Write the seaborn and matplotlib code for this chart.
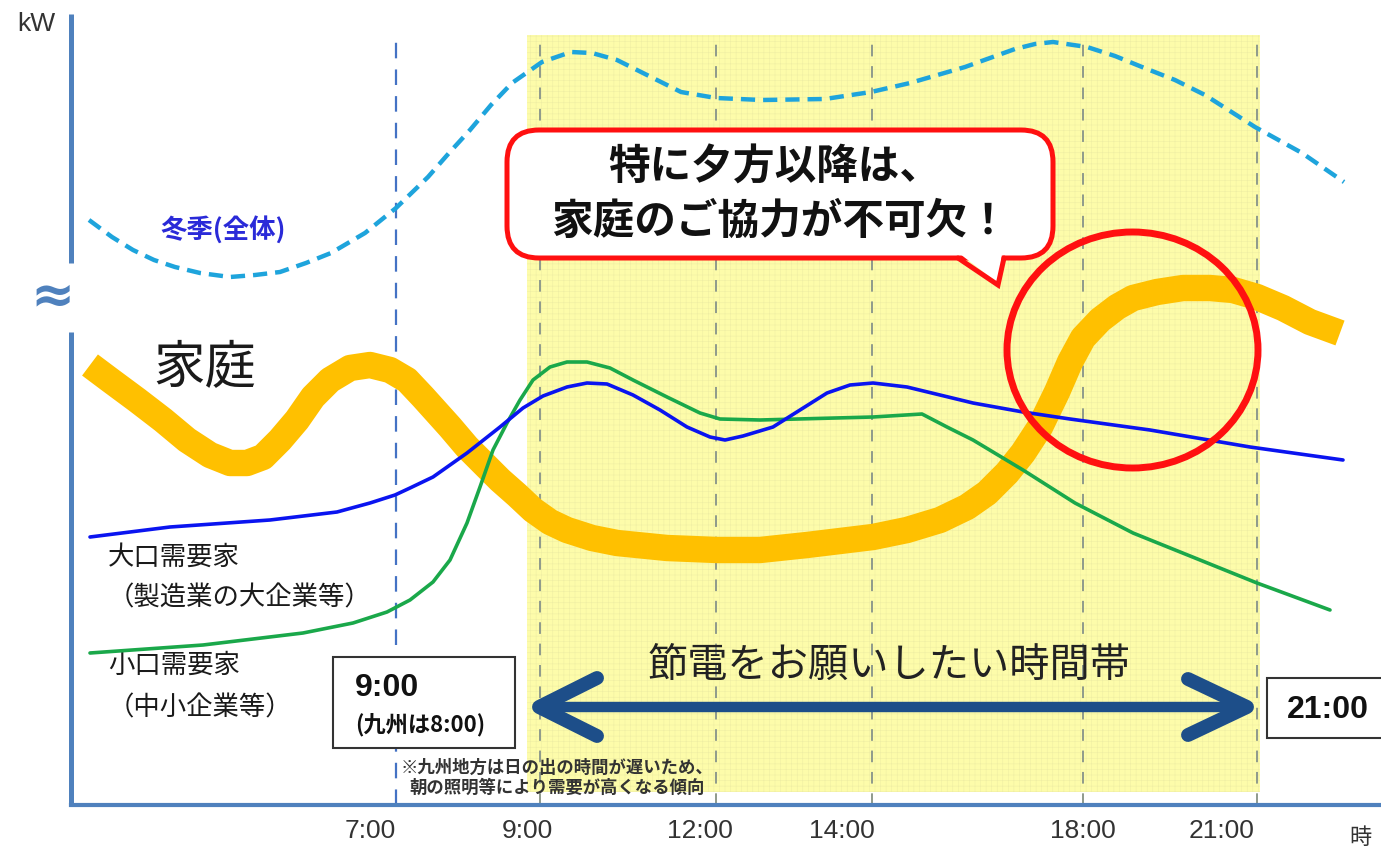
import matplotlib
matplotlib.use("Agg")
import matplotlib.pyplot as plt
import seaborn as sns
from matplotlib.patches import FancyBboxPatch, Polygon, Ellipse, Rectangle

# ---- curve data (x: position along the time axis, y: relative load) ----
winter_x = [1.8, 4.1, 6.2, 8.3, 10.4, 12.9, 15.9, 18.4, 20.9, 23.5, 26.0, 29.4, 32.5,
            35.7, 37.8, 39.9, 42.0, 44.1, 47.1, 50.0, 52.1, 54.6, 58.0, 61.0, 64.5,
            69.1, 75.4, 80.0, 83.9, 89.4, 91.9, 94.4, 96.4, 98.2, 101.6, 104.4, 107.1,
            110.4, 113.4, 115.9, 118.4, 123.1, 127.3]
winter_y = [58.5, 56.8, 55.5, 54.5, 53.8, 53.2, 52.8, 53.0, 53.3, 54.2, 55.2, 57.2, 59.7,
            62.8, 65.2, 67.5, 70.0, 72.2, 74.3, 75.3, 75.2, 74.5, 72.8, 71.3, 70.7,
            70.5, 70.6, 71.3, 72.2, 73.8, 74.7, 75.6, 76.1, 76.3, 75.8, 74.9, 73.8,
            72.5, 71.0, 69.4, 67.8, 65.2, 62.3]

home_x = [1.9, 3.9, 6.6, 9.2, 11.6, 13.9, 15.9, 17.6, 19.2, 20.9, 22.6, 24.2, 25.9, 27.9,
          29.9, 31.9, 33.6, 35.2, 37.9, 39.6, 41.2, 42.9, 44.6, 46.2, 47.9, 49.6, 52.1,
          54.6, 59.6, 64.6, 68.9, 73.6, 80.2, 83.6, 86.9, 89.6, 91.6, 93.6, 95.2, 96.9,
          98.6, 99.9, 101.2, 102.9, 104.6, 106.2, 108.6, 111.2, 113.9, 116.2, 118.6,
          121.2, 123.9, 126.9]
home_y = [44.0, 42.5, 40.5, 38.5, 36.5, 35.0, 34.2, 34.2, 34.8, 36.5, 38.5, 40.8, 42.5,
          43.7, 44.0, 43.5, 42.5, 40.8, 37.8, 35.8, 34.2, 32.5, 31.0, 29.5, 28.3, 27.5,
          26.7, 26.2, 25.7, 25.5, 25.5, 26.0, 26.8, 27.5, 28.5, 29.8, 31.2, 33.2, 35.2,
          37.8, 41.3, 44.3, 46.7, 48.5, 49.8, 50.7, 51.3, 51.7, 51.7, 51.5, 50.8, 49.7,
          48.3, 47.2]

large_x = [1.9, 9.9, 19.9, 26.6, 29.9, 32.4, 33.9, 36.2, 39.6, 42.9, 45.2, 47.2, 49.6,
           51.6, 53.6, 56.2, 58.9, 61.6, 63.9, 65.4, 67.2, 70.2, 72.9, 75.6, 77.9, 80.2,
           83.6, 86.9, 90.2, 95.2, 99.9, 107.9, 117.9, 127.2]
large_y = [26.8, 27.8, 28.5, 29.3, 30.2, 31.0, 31.7, 32.8, 35.2, 37.8, 39.7, 40.9, 41.8,
           42.2, 42.1, 41.0, 39.5, 37.8, 36.8, 36.5, 36.9, 37.8, 39.5, 41.2, 42.0, 42.2,
           41.8, 41.0, 40.2, 39.3, 38.6, 37.5, 35.8, 34.5]

small_x = [1.9, 13.2, 23.2, 28.2, 31.6, 33.9, 36.2, 37.9, 39.6, 40.9, 42.2, 43.6, 44.9,
           46.2, 47.9, 49.6, 51.6, 53.9, 56.2, 59.6, 62.9, 64.9, 68.9, 80.2, 85.1, 87.6,
           90.2, 95.2, 100.4, 106.2, 112.9, 118.6, 125.9]
small_y = [15.2, 16.0, 17.2, 18.2, 19.3, 20.5, 22.3, 24.5, 28.2, 31.8, 35.5, 38.2, 40.5,
           42.5, 43.8, 44.3, 44.3, 43.7, 42.5, 40.8, 39.2, 38.6, 38.5, 38.8, 39.1, 37.8,
           36.5, 33.5, 30.2, 27.2, 24.5, 22.2, 19.5]

tick_pos = [29.9, 45.6, 62.9, 77.1, 101.2, 115.1]
tick_labels = ["7:00", "9:00", "12:00", "14:00", "18:00", "21:00"]
guide_pos = [46.9, 64.5, 80.1, 101.2, 118.6]
morning_line = 32.5
band_start, band_end = 45.6, 118.9

AXIS_BLUE = "#4f81bd"

sns.set_theme(style="white")
plt.rcParams["font.family"] = ["Noto Sans CJK JP", "DejaVu Sans"]
plt.rcParams["hatch.linewidth"] = 0.4

fig = plt.figure(figsize=(13.81, 8.51), dpi=100)
ax = fig.add_axes([71 / 1381, 46 / 851, 1310 / 1381, 770 / 851])
ax.set_xlim(0, 131)
ax.set_ylim(0, 77)
ax.set_facecolor("white")

# requested power-saving time band
ax.axvspan(band_start, band_end, ymin=0.017, ymax=1.0, facecolor="#fdfcaa",
           edgecolor="#efeea4", linewidth=0, hatch="+++", zorder=0)

# time guide lines
for gx in guide_pos:
    ax.plot([gx, gx], [0, 76.5], color="#8f9a8c", lw=1.4,
            linestyle=(0, (6, 5)), zorder=1)
ax.plot([morning_line, morning_line], [0, 76.5], color="#4472c4", lw=1.6,
        linestyle=(0, (7, 5)), zorder=1)

# demand curves
sns.lineplot(x=home_x, y=home_y, color="#ffc000", lw=19, ax=ax, zorder=3,
             solid_capstyle="butt", solid_joinstyle="round")
sns.lineplot(x=small_x, y=small_y, color="#1aa84a", lw=2.6, ax=ax, zorder=4,
             solid_joinstyle="round")
sns.lineplot(x=large_x, y=large_y, color="#0a14f0", lw=2.6, ax=ax, zorder=5,
             solid_joinstyle="round")
sns.lineplot(x=winter_x, y=winter_y, color="#1ea4dc", lw=3.2, ax=ax, zorder=4,
             linestyle=(0, (3.2, 1.8)))

# highlight circle
ax.add_patch(Ellipse((106.15, 45.5), 25.1, 23.6, fill=False, ec="#ff1010",
                     lw=5, zorder=8))

# axes: broken vertical axis and horizontal axis
for s in ["top", "right", "left"]:
    ax.spines[s].set_visible(False)
ax.spines["bottom"].set_color(AXIS_BLUE)
ax.spines["bottom"].set_linewidth(3)
ax.plot([0, 0], [79.1, 54.2], color=AXIS_BLUE, lw=3.6, clip_on=False,
        solid_capstyle="butt", zorder=6)
ax.plot([0, 0], [47.3, 0], color=AXIS_BLUE, lw=3.6, clip_on=False,
        solid_capstyle="butt", zorder=6)
ax.text(-1.8, 50.9, "≈", color=AXIS_BLUE, fontsize=38, fontweight="bold",
        family="DejaVu Sans", ha="center", va="center", clip_on=False)
ax.text(-3.5, 78.1, "kW", color="#333333", fontsize=19, family="Liberation Sans",
        ha="center", va="center", clip_on=False)

ax.set_xticks(tick_pos, tick_labels)
ax.set_yticks([])
ax.tick_params(axis="x", length=0, pad=10, labelsize=19, colors="#333333")
for lab in ax.get_xticklabels():
    lab.set_family("Liberation Sans")
ax.text(128.9, -3.2, "時", fontsize=16, color="#333333", ha="center", va="center",
        clip_on=False)

# series labels
ax.text(15.2, 57.5, "冬季(全体)", color="#2a2ad8", fontsize=19, fontweight="bold",
        ha="center", va="center")
ax.text(13.4, 43.7, "家庭", color="#1a1a1a", fontsize=37, ha="center", va="center")
ax.text(3.7, 24.8, "大口需要家", color="#1a1a1a", fontsize=19, ha="left", va="center")
ax.text(3.7, 20.7, "（製造業の大企業等）", color="#1a1a1a", fontsize=19, ha="left",
        va="center")
ax.text(3.7, 14.0, "小口需要家", color="#1a1a1a", fontsize=19, ha="left", va="center")
ax.text(3.7, 9.7, "（中小企業等）", color="#1a1a1a", fontsize=19, ha="left", va="center")

# speech bubble
ax.add_patch(FancyBboxPatch((43.6, 54.7), 54.6, 12.8,
                            boxstyle="round,pad=0,rounding_size=3.2",
                            fc="white", ec="#ff1010", lw=3.6, zorder=10))
ax.add_patch(Polygon([(88.9, 55.1), (93.1, 55.1), (92.7, 52.2)], closed=True,
                     fc="white", ec="none", zorder=11))
ax.plot([88.7, 92.7, 93.3], [54.7, 52.0, 54.7], color="#ff1010", lw=3.6,
        solid_joinstyle="miter", zorder=12)
ax.text(70.4, 63.7, "特に夕方以降は、", fontsize=30, fontweight="bold", color="#111111",
        ha="center", va="center", zorder=13)
ax.text(70.9, 58.3, "家庭のご協力が不可欠！", fontsize=30, fontweight="bold",
        color="#111111", ha="center", va="center", zorder=13)

# start / end time boxes
ax.add_patch(Rectangle((26.2, 5.7), 18.2, 9.1, fc="white", ec="#333333", lw=1.5,
                       zorder=10))
ax.text(28.4, 11.7, "9:00", fontsize=23, fontweight="bold", family="Liberation Sans",
        color="#111111", ha="left", va="center", zorder=11)
ax.text(28.4, 8.0, "(九州は8:00)", fontsize=16, fontweight="bold", color="#111111",
        ha="left", va="center", zorder=11)
ax.add_patch(Rectangle((119.6, 6.7), 14.0, 6.0, fc="white", ec="#333333", lw=1.5,
                       zorder=10, clip_on=False))
ax.text(121.6, 9.5, "21:00", fontsize=23, fontweight="bold", family="Liberation Sans",
        color="#111111", ha="left", va="center", zorder=11, clip_on=False)

# double-headed arrow across the band
NAVY = "#1d4e89"
ax.plot([47.2, 117.3], [9.8, 9.8], color=NAVY, lw=7.5, solid_capstyle="butt", zorder=6)
ax.plot([52.6, 46.8, 52.6], [12.7, 9.8, 6.9], color=NAVY, lw=10,
        solid_capstyle="round", solid_joinstyle="round", zorder=6)
ax.plot([111.7, 117.6, 111.7], [12.6, 9.8, 7.0], color=NAVY, lw=10,
        solid_capstyle="round", solid_joinstyle="round", zorder=6)
ax.text(81.8, 14.0, "節電をお願いしたい時間帯", fontsize=29, color="#222222",
        ha="center", va="center", zorder=7)

# footnote
ax.text(48.6, 3.7, "※九州地方は日の出の時間が遅いため、", fontsize=12.5, fontweight="bold",
        color="#333333", ha="center", va="center", zorder=7)
ax.text(48.6, 1.7, "朝の照明等により需要が高くなる傾向", fontsize=12.5, fontweight="bold",
        color="#333333", ha="center", va="center", zorder=7)

fig.savefig("out.png", dpi=100, facecolor="white")
